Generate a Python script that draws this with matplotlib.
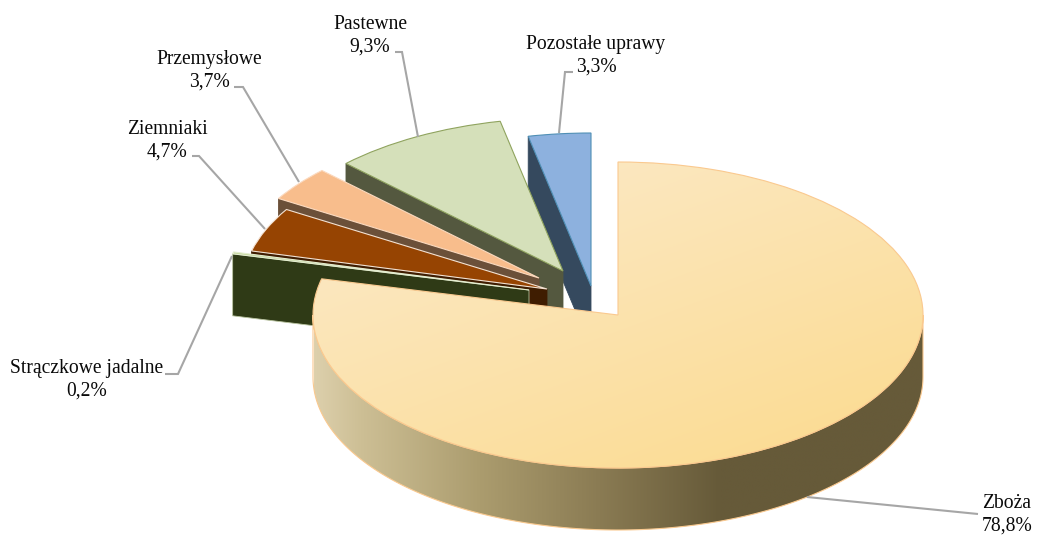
import numpy as np
import matplotlib
matplotlib.use("Agg")
import matplotlib.pyplot as plt
from matplotlib.colors import to_rgb
from matplotlib.patches import Polygon

categories = ["Zboża", "Strączkowe jadalne", "Ziemniaki", "Przemysłowe", "Pastewne", "Pozostałe uprawy"]
values = [78.8, 0.2, 4.7, 3.7, 9.3, 3.3]

top_colors = ["#FBE3B2", "#C3D69B", "#964402", "#F8BD8C", "#D5E0BA", "#8DB1DE"]
edge_colors = ["#FAC98F", "#E4EDD0", "#F3E2D3", "#FBD9BE", "#8FA35E", "#4F8FB5"]
side_colors = ["#665A39", "#2F3A16", "#3F1D01", "#6B5039", "#54583F", "#35495E"]

# layout in pixels of the reference
CX, CY, RX, RY, DEPTH = 618, 315, 305, 153, 62
W, H = 1037, 536
apex_px = [(618, 315), (529, 290), (547, 289), (539, 278), (563, 271), (591, 286)]
label_px = [(1007, 515), (87, 380), (167, 141), (209, 71), (370, 36), (596, 56)]
leaders_px = [
    [(978, 514), (807, 497)],
    [(165, 374), (178, 374), (232, 256)],
    [(192, 156), (199, 156), (265, 229)],
    [(234, 87), (243, 87), (299, 182)],
    [(395, 52), (402, 52), (418, 137)],
    [(573, 72), (565, 72), (559, 133)],
]


def ux(x):
    return (x - CX) / RX


def uy(y):
    return (CY - y) / RY


depth = DEPTH / RY
fig = plt.figure(figsize=(W / 100, H / 100), dpi=100)
ax = fig.add_axes([0, 0, 1, 1])
wedges, _ = ax.pie(values, startangle=90, counterclock=False, colors=top_colors, radius=1,
                   wedgeprops=dict(linewidth=0.8))
ax.set_aspect("auto")
ax.set_xlim(ux(0), ux(W))
ax.set_ylim(uy(H), uy(0))
ax.axis("off")

# paint from the back slice to the front slice
z = 2
for i in [5, 4, 3, 2, 1, 0]:
    w = wedges[i]
    cx, cy = ux(apex_px[i][0]), uy(apex_px[i][1])
    w.set_center((cx, cy))
    w.set_edgecolor(edge_colors[i])
    a = np.deg2rad(w.theta2)
    rim = (cx + np.cos(a), cy + np.sin(a))
    if i == 0:
        # outer wall with a horizontal gradient
        t = np.linspace(-np.pi, 0, 200)
        xs, ys = np.cos(t), np.sin(t)
        pts = np.r_[np.c_[xs, ys - depth], np.c_[xs[::-1], ys[::-1]]]
        wall = Polygon(pts, closed=True, facecolor="none", edgecolor="#FAC98F", lw=0.8, zorder=z + 0.2)
        ax.add_patch(wall)
        stops_x = [ux(314), ux(360), ux(480), ux(600), ux(720), ux(924)]
        stops_c = ["#DDD0AC", "#CDBF95", "#AB9C6E", "#8A7B53", "#665A39", "#665A39"]
        gx = np.linspace(stops_x[0], stops_x[-1], 512)
        rgb = np.array([to_rgb(c) for c in stops_c])
        grad = np.stack([np.interp(gx, stops_x, rgb[:, k]) for k in range(3)], -1)[None, :, :]
        im = ax.imshow(grad, extent=(gx[0], gx[-1], -1 - depth, 0.3), aspect="auto", zorder=z + 0.1,
                       interpolation="bilinear")
        im.set_clip_path(wall)
    face = Polygon([rim, (cx, cy), (cx, cy - depth), (rim[0], rim[1] - depth)], closed=True,
                   facecolor=side_colors[i], edgecolor=side_colors[i] if i != 1 else "#B9C4A0",
                   lw=0.6, zorder=z)
    ax.add_patch(face)
    w.set_zorder(z + 1)
    if i == 0:
        n = 256
        gx2, gy2 = np.meshgrid(np.linspace(0, 1, n), np.linspace(0, 1, n))
        mix = np.clip(0.55 * gx2 + 0.75 * gy2 - 0.15, 0, 1)[..., None]
        c0, c1 = np.array(to_rgb("#FCE9C6")), np.array(to_rgb("#FBDC94"))
        img = c0 * (1 - mix) + c1 * mix
        im2 = ax.imshow(img, extent=(-1.02, 1.02, -1.02, 1.02), aspect="auto", zorder=z + 0.9,
                        interpolation="bilinear")
        im2.set_clip_path(w)
        w.set_facecolor("none")
    z += 2

ax.set_xlim(ux(0), ux(W))
ax.set_ylim(uy(H), uy(0))

for pts in leaders_px:
    ax.plot([ux(p[0]) for p in pts], [uy(p[1]) for p in pts], color="#A6A6A6", lw=1.5,
            zorder=30, solid_capstyle="butt", solid_joinstyle="miter", clip_on=False)

for name, val, pos in zip(categories, values, label_px):
    txt = f"{name}\n{val:.1f}%".replace(".", ",")
    ax.text(ux(pos[0]), uy(pos[1]), txt, ha="center", va="center", fontsize=14.1,
            family="Liberation Serif", color="#0A0A0A", linespacing=1.27, zorder=31)

fig.savefig("out.png", dpi=100, facecolor="white")
